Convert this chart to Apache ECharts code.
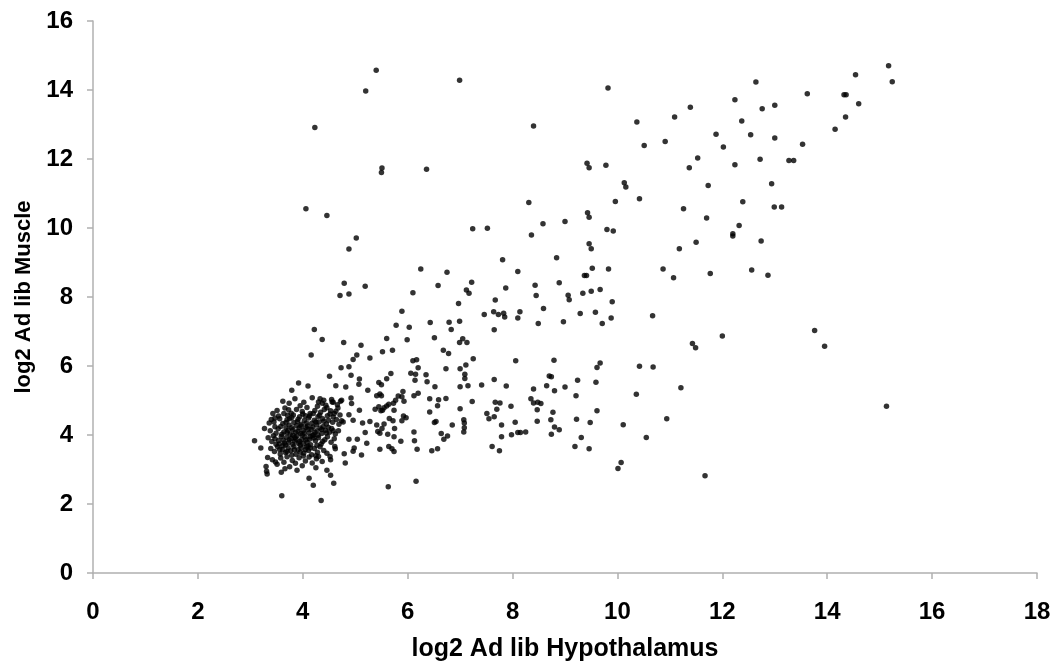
<!DOCTYPE html>
<html>
<head>
<meta charset="utf-8">
<script src="https://cdn.jsdelivr.net/npm/echarts@6/dist/echarts.min.js"></script>
<style>
html,body{margin:0;padding:0;background:#fff;}
#chart{width:1057px;height:668px;}
</style>
</head>
<body>
<div id="chart"></div>
<script>
const xTicks = [0, 2, 4, 6, 8, 10, 12, 14, 16, 18];
const yTicks = [0, 2, 4, 6, 8, 10, 12, 14, 16];
const xName = 'log2 Ad lib Hypothalamus';
const yName = 'log2 Ad lib Muscle';

// upper / right region
const pointsRight = [
[9.82,14.06],[15.17,14.70],[14.54,14.44],[12.64,14.23],[15.24,14.24],[13.62,13.89],[14.32,13.86],[14.36,13.86],
[12.24,13.72],[14.60,13.60],[13.00,13.56],[11.39,13.50],[12.76,13.46],[14.35,13.22],[11.09,13.22],[12.37,13.10],
[10.37,13.07],[14.15,12.86],[11.88,12.72],[12.54,12.70],[13.00,12.61],[10.91,12.51],[10.51,12.39],[13.53,12.43],
[12.02,12.35],[11.53,12.03],[12.72,11.99],[13.27,11.96],[13.36,11.96],[9.42,11.88],[9.46,11.75],[9.78,11.82],
[11.37,11.75],[12.24,11.83],[12.94,11.28],[10.13,11.31],[10.16,11.19],[11.73,11.23],[10.42,10.85],[9.96,10.77],
[12.39,10.76],[11.26,10.56],[12.99,10.61],[13.13,10.61],[9.43,10.44],[9.46,10.31],[11.70,10.29],[12.32,10.07],
[12.20,9.83],[12.20,9.77],[9.80,9.96],[9.92,9.91],[9.46,9.54],[9.50,9.40],[11.50,9.59],[12.74,9.62],[11.18,9.40],
[9.52,8.83],[9.83,8.81],[9.37,8.62],[9.41,8.62],[10.87,8.81],[11.07,8.56],[11.77,8.68],[12.56,8.78],[12.87,8.63],
[9.34,8.11],[9.50,8.17],[9.67,8.22],[9.90,7.86],[9.29,7.52],[9.58,7.56],[9.88,7.39],[9.71,7.23],[10.67,7.46],
[13.76,7.03],[13.95,6.57],[12.00,6.87],[11.43,6.65],[11.49,6.53],[9.67,6.09],[9.61,5.96],[10.42,5.99],[10.68,5.97],
[9.59,5.53],[11.21,5.37],[10.36,5.18],[15.13,4.83],[9.61,4.70],[9.48,4.36],[10.11,4.30],[10.94,4.47],[9.31,3.93],
[10.55,3.93],[9.46,3.60],[10.07,3.20],[10.01,3.03],[11.67,2.82]
];

// upper-left / middle region
const pointsUpperMid = [
[5.40,14.57],[5.20,13.97],[6.99,14.28],[4.23,12.91],[8.40,12.96],[5.51,11.74],[5.50,11.61],[6.36,11.70],
[4.06,10.56],[4.46,10.36],[8.31,10.74],[8.58,10.12],[9.00,10.19],[8.36,9.80],[7.24,9.98],[7.52,9.99],
[5.02,9.71],[4.88,9.39],[7.81,9.08],[8.84,9.14],[6.25,8.81],[6.75,8.72],[8.10,8.74],[4.79,8.40],[5.19,8.31],
[4.71,8.04],[4.88,8.09],[6.58,8.33],[7.22,8.43],[7.12,8.20],[7.17,8.11],[6.10,8.12],[7.87,8.26],[8.43,8.34],
[8.89,8.41],[8.45,8.04],[9.06,8.05],[9.08,7.92],[6.97,7.81],[7.67,7.91],[8.59,7.67],[7.46,7.49],[7.64,7.57],
[7.73,7.49],[7.83,7.53],[7.85,7.42],[8.14,7.57],[8.10,7.39],[5.89,7.59],[4.22,7.06],[4.37,6.77],[4.16,6.32],
[4.78,6.68],[5.11,6.60],[5.78,7.18],[6.03,7.12],[6.43,7.26],[6.79,7.27],[6.99,7.30],[6.83,7.06],[7.65,7.05],
[8.49,7.23],[8.97,7.28],[5.60,6.80],[5.99,6.76],[6.51,6.82],[7.05,6.79],[6.99,6.68],[7.13,6.68],[5.52,6.41],
[5.71,6.46],[4.96,6.19],[5.03,6.32],[5.28,6.23],[6.68,6.46],[6.78,6.36],[6.10,6.15],[6.17,6.18],[7.25,6.21],
[7.11,6.03],[8.06,6.15],[8.79,6.17],[4.73,5.95],[4.88,5.98],[6.20,5.95],[6.73,5.92],[7.00,5.92]
];

// lower middle region
const pointsLowerMid = [
[5.45,5.52],[5.50,5.46],[5.68,5.78],[5.60,5.63],[5.24,5.30],[6.06,5.79],[6.15,5.76],[6.35,5.75],[6.37,5.54],
[6.52,5.40],[6.14,5.59],[7.09,5.76],[7.09,5.64],[7.00,5.40],[7.15,5.43],[7.41,5.45],[7.65,5.61],[7.88,5.42],
[8.70,5.71],[8.74,5.69],[8.65,5.43],[8.40,5.33],[8.80,5.28],[9.00,5.39],[9.24,5.59],[9.21,5.14],[9.19,3.67],
[9.22,4.46],[8.77,4.66],[8.73,4.44],[8.74,4.02],[8.80,4.23],[8.89,4.15],[8.47,4.40],[8.35,5.05],[8.40,4.93],
[8.48,4.95],[8.54,4.91],[8.47,4.73],[7.97,4.83],[8.05,4.37],[7.98,4.01],[8.10,4.07],[8.15,4.07],[8.25,4.09],
[7.67,4.95],[7.76,4.93],[7.70,4.75],[7.51,4.62],[7.55,4.47],[7.65,4.53],[7.79,4.29],[7.79,3.95],[7.61,3.67],
[7.75,3.54],[7.23,4.97],[7.07,4.44],[7.08,4.35],[7.08,4.21],[7.07,4.09],[7.00,4.76],[6.85,4.29],[6.73,5.06],
[6.59,5.02],[6.57,4.85],[6.42,5.05],[6.42,4.67],[6.51,4.36],[6.54,4.39],[6.64,4.04],[6.69,3.88],[6.76,3.97],
[6.46,3.54],[6.57,3.60],[6.20,5.21],[6.12,5.14],[5.91,5.26],[5.89,5.11],[5.93,4.98],[5.82,5.13],[5.77,5.01],
[5.73,4.92],[5.64,4.89],[5.60,4.84],[5.55,4.79],[5.47,5.19],[5.50,5.14],[5.41,5.14],[5.45,4.82],[5.52,4.72],
[5.49,4.70],[5.38,4.75],[5.74,4.72],[5.72,4.41],[5.92,4.55],[5.97,4.50],[5.89,4.41],[5.65,4.48],[5.55,4.32],
[5.41,4.29],[5.51,4.19],[5.43,4.10],[5.47,4.05],[5.62,4.02],[5.75,4.19],[5.74,3.95],[5.87,3.82],[6.12,4.09],
[6.13,3.83],[6.18,3.59],[5.64,3.67],[5.70,3.60],[5.74,3.52],[5.47,3.59],[5.28,4.39],[5.14,4.35],[5.19,4.07],
[5.22,3.76],[5.12,3.42],[5.63,2.50],[6.16,2.66]
];

// cluster edge
const pointsClusterEdge = [
[4.10,5.42],[4.51,5.70],[4.92,5.73],[5.08,5.62],[5.07,5.47],[4.63,5.43],[4.82,5.39],[4.74,5.01],[4.92,5.07],
[4.93,4.91],[4.33,5.05],[4.40,5.01],[4.56,4.96],[5.08,4.72],[4.88,4.59],[4.96,4.43],[4.77,4.38],[4.88,3.88],
[5.04,3.88],[4.61,3.67],[4.62,3.60],[4.79,3.46],[4.98,3.62],[4.96,3.53],[4.81,3.19],[4.52,3.38],[4.53,3.28],
[4.30,3.38],[4.26,3.31],[4.46,2.98],[4.53,2.83],[4.59,2.60],[4.12,2.75],[4.20,2.54],[4.35,2.10],
[3.92,5.51],[3.79,5.30],[3.74,4.92],[3.08,3.83],[3.20,3.62],[3.27,4.19],[3.36,4.35],[3.47,4.49],[3.33,3.35],
[3.30,3.09],[3.31,2.95],[3.32,2.87],[3.60,2.24],[3.48,3.22],[3.59,2.92]
];

// dense cluster core
const pointsClusterCore = [
[3.62,4.98],[3.85,5.05],[4.02,4.95],[4.18,5.08],[4.37,4.92],[4.55,5.03],[4.66,4.88],[3.95,4.85],[4.28,4.83],[4.46,4.79],
[3.51,4.71],[3.66,4.78],[3.78,4.63],[3.88,4.74],[3.99,4.68],[4.08,4.80],[4.14,4.62],[4.23,4.71],[4.34,4.66],[4.41,4.74],
[4.52,4.61],[4.63,4.69],[4.71,4.58],[3.71,4.57],[4.05,4.56],[4.29,4.53],[4.58,4.52],[3.43,4.62],
[3.45,4.38],[3.56,4.47],[3.62,4.33],[3.70,4.44],[3.79,4.51],[3.83,4.36],[3.91,4.46],[3.97,4.31],[4.03,4.42],[4.11,4.49],
[4.17,4.34],[4.22,4.43],[4.31,4.38],[4.38,4.47],[4.45,4.32],[4.49,4.43],[4.57,4.37],[4.64,4.45],[4.69,4.31],[3.74,4.29],
[3.88,4.27],[4.09,4.26],[4.26,4.29],[4.39,4.25],[3.58,4.25],[4.74,4.41],
[3.38,4.12],[3.49,4.05],[3.53,4.18],[3.64,4.09],[3.68,4.21],[3.76,4.02],[3.81,4.15],[3.86,4.08],[3.93,4.20],[3.96,4.04],
[4.01,4.13],[4.06,4.22],[4.12,4.06],[4.16,4.17],[4.21,4.01],[4.27,4.12],[4.33,4.20],[4.36,4.04],[4.43,4.14],[4.51,4.08],
[4.55,4.19],[4.62,4.03],[4.68,4.12],[3.72,4.14],[3.99,4.00],[4.19,4.23],[3.44,3.98],
[3.34,3.92],[3.41,3.81],[3.47,3.89],[3.55,3.74],[3.59,3.96],[3.63,3.85],[3.69,3.93],[3.73,3.78],[3.78,3.90],[3.84,3.82],
[3.89,3.97],[3.92,3.76],[3.98,3.87],[4.04,3.94],[4.08,3.79],[4.13,3.88],[4.19,3.98],[4.24,3.83],[4.30,3.92],[4.35,3.74],
[4.42,3.86],[4.47,3.95],[4.54,3.79],[4.60,3.89],[3.67,3.71],[3.95,3.70],[4.15,3.72],[3.81,3.99],
[3.39,3.61],[3.46,3.52],[3.52,3.66],[3.57,3.45],[3.61,3.58],[3.67,3.49],[3.72,3.63],[3.77,3.54],[3.83,3.67],[3.87,3.44],
[3.91,3.57],[3.97,3.62],[4.02,3.48],[4.07,3.65],[4.11,3.55],[4.17,3.43],[4.22,3.61],[4.28,3.50],[4.33,3.66],[4.40,3.55],
[4.46,3.47],[3.62,3.69],
[3.42,3.28],[3.51,3.15],[3.58,3.33],[3.64,3.21],[3.70,3.37],[3.75,3.08],[3.80,3.26],[3.86,3.18],[3.93,3.34],[3.99,3.11],
[4.05,3.25],[4.12,3.36],[4.18,3.19],[4.25,3.05],[4.37,3.23],[3.66,3.02],[3.89,2.98],[4.01,3.39],
[3.68,4.36],[3.75,4.47],[3.82,4.58],[3.90,4.39],[3.94,4.53],[4.00,4.61],[4.07,4.35],[4.13,4.55],[4.20,4.62],[4.25,4.38],
[4.32,4.57],[4.40,4.40],[4.47,4.56],[4.53,4.70],[4.60,4.62],[4.67,4.78],[4.44,4.86],[4.30,4.96],[4.58,4.95],[4.72,4.98],
[3.60,4.02],[3.70,4.07],[3.79,4.21],[3.85,3.93],[3.91,4.11],[3.97,4.26],[4.03,4.06],[4.10,4.17],[4.14,3.95],[4.23,4.08],
[4.29,3.99],[4.36,4.16],[4.45,4.06],[4.49,4.22],[4.58,4.12],
[3.54,3.84],[3.65,3.77],[3.74,3.86],[3.81,3.73],[3.87,3.88],[3.94,3.81],[4.01,3.75],[4.06,3.86],[4.10,3.68],[4.21,3.91],
[4.27,3.70],[4.38,3.81],
[3.49,3.73],[3.56,3.58],[3.70,3.52],[3.79,3.41],[3.84,3.57],[3.95,3.50],[4.05,3.57],[4.14,3.62],[4.25,3.40],
[3.54,4.55],[3.47,4.24],[3.40,4.45],[3.64,4.62],[3.73,4.73]
];

const allPoints = pointsRight.concat(pointsUpperMid, pointsLowerMid, pointsClusterEdge, pointsClusterCore);

const chart = echarts.init(document.getElementById('chart'), null, {renderer: 'canvas'});
const labelFont = {fontFamily: "'Liberation Sans',Arial,Helvetica,sans-serif", fontWeight: 'bold', color: '#000'};
const axisLineStyle = {color: '#b0b0b0', width: 1.5};

chart.setOption({
  animation: false,
  backgroundColor: '#fff',
  grid: {left: 93, right: 20, top: 21, bottom: 95, containLabel: false},
  xAxis: {
    type: 'value', min: xTicks[0], max: xTicks[xTicks.length - 1], interval: 2,
    name: xName, nameLocation: 'middle', nameGap: 64,
    nameTextStyle: Object.assign({fontSize: 25}, labelFont),
    axisLine: {show: true, onZero: false, lineStyle: axisLineStyle},
    axisTick: {show: true, inside: false, length: 6, lineStyle: axisLineStyle},
    axisLabel: Object.assign({fontSize: 24, margin: 27}, labelFont),
    splitLine: {show: false}
  },
  yAxis: {
    type: 'value', min: yTicks[0], max: yTicks[yTicks.length - 1], interval: 2,
    name: yName, nameLocation: 'middle', nameGap: 57, nameRotate: 90,
    nameTextStyle: Object.assign({fontSize: 22}, labelFont),
    axisLine: {show: true, onZero: false, lineStyle: axisLineStyle},
    axisTick: {show: true, inside: false, length: 6, lineStyle: axisLineStyle},
    axisLabel: Object.assign({fontSize: 24, margin: 20}, labelFont),
    splitLine: {show: false}
  },
  series: [{
    type: 'scatter',
    data: allPoints,
    symbol: 'circle',
    symbolSize: 5.5,
    itemStyle: {color: '#000'}
  }]
});
</script>
</body>
</html>
